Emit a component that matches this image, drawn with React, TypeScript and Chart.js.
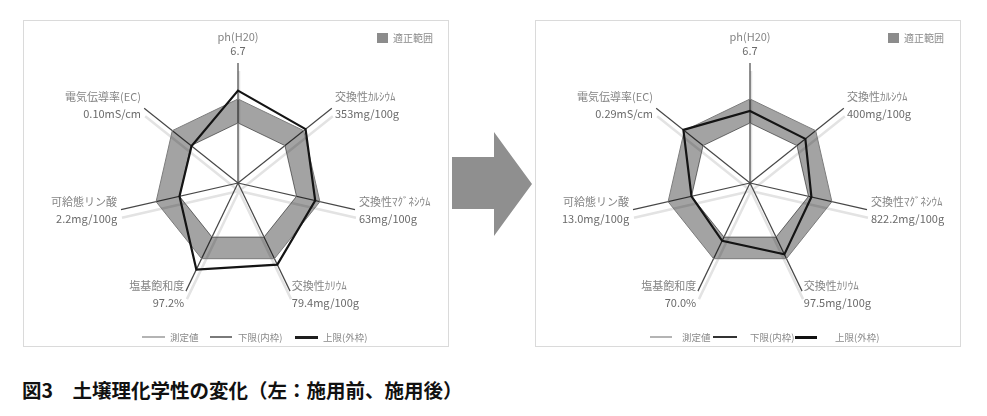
import React, { useEffect, useRef } from 'react';
import { Chart, registerables } from 'chart.js';

Chart.register(...registerables);

// ---- data ----
const AXIS_NAMES = ['ph(H20)', '交換性ｶﾙｼｳﾑ', '交換性ﾏｸﾞﾈｼｳﾑ', '交換性ｶﾘｳﾑ', '塩基飽和度', '可給態リン酸', '電気伝導率(EC)'];
const BEFORE_VALUE_LABELS = ['6.7', '353mg/100g', '63mg/100g', '79.4mg/100g', '97.2%', '2.2mg/100g', '0.10mS/cm'];
const AFTER_VALUE_LABELS = ['6.7', '400mg/100g', '822.2mg/100g', '97.5mg/100g', '70.0%', '13.0mg/100g', '0.29mS/cm'];
const LOWER_LIMIT = [50, 50, 50, 50, 50, 50, 50];
const UPPER_LIMIT = [70, 70, 70, 70, 70, 70, 70];
const BEFORE_MEASURED = [77, 72, 66, 75.5, 80, 50, 49.5];
const AFTER_MEASURED = [60, 59, 52.5, 66, 53.5, 50, 71];
const SCALE_MIN = 0;
const SCALE_MAX = 100;
const LEGEND_BAND = '適正範囲';
const LEGEND_MEASURED = '測定値';
const LEGEND_LOWER = '下限(内枠)';
const LEGEND_UPPER = '上限(外枠)';
const CAPTION = '図3　土壌理化学性の変化（左：施用前、施用後）';

const JP_FONT = "'Noto Sans CJK JP', 'Noto Sans', sans-serif";

const shadowPlugin = {
  id: 'spokeShadow',
  beforeDraw(chart: any) {
    const s = chart.scales.r;
    const ctx = chart.ctx;
    ctx.save();
    ctx.strokeStyle = '#e3e3e3';
    ctx.lineWidth = 2.5;
    for (let i = 0; i < chart.data.labels.length; i++) {
      const p = s.getPointPosition(i, s.drawingArea);
      ctx.beginPath();
      ctx.moveTo(s.xCenter + 1, s.yCenter + 8);
      ctx.lineTo(p.x + 1, p.y + 8);
      ctx.stroke();
    }
    ctx.restore();
  },
};

const labelPlugin = {
  id: 'axisLabels',
  afterDraw(chart: any, _args: any, opts: any) {
    const s = chart.scales.r;
    const ctx = chart.ctx;
    const names = chart.data.labels;
    const vals: string[] = opts.values || [];
    ctx.save();
    ctx.font = `11px ${JP_FONT}`;
    ctx.textBaseline = 'middle';
    for (let i = 0; i < names.length; i++) {
      const top = i === 0;
      const p = s.getPointPosition(i, s.drawingArea + (top ? 6 : 4));
      const c = Math.cos(p.angle);
      ctx.textAlign = Math.abs(c) < 0.05 ? 'center' : c > 0 ? 'left' : 'right';
      let y1: number;
      let y2: number;
      if (top) {
        y2 = p.y - 6;
        y1 = y2 - 14.5;
      } else {
        y1 = p.y - 8.5;
        y2 = p.y + 8.5;
      }
      ctx.fillStyle = '#858585';
      ctx.fillText(names[i], p.x, y1);
      ctx.fillStyle = '#6a6a6a';
      ctx.fillText(vals[i], p.x, y2);
    }
    ctx.restore();
  },
};

function RadarCanvas({ measured, valueLabels }: { measured: number[]; valueLabels: string[] }) {
  const ref = useRef<HTMLCanvasElement | null>(null);
  useEffect(() => {
    if (!ref.current) return;
    const chart = new Chart(ref.current, {
      type: 'radar',
      data: {
        labels: AXIS_NAMES,
        datasets: [
          {
            label: LEGEND_MEASURED,
            data: measured,
            borderColor: '#141414',
            borderWidth: 2.2,
            fill: false,
            pointRadius: 0,
            order: 0,
          },
          {
            label: LEGEND_UPPER,
            data: UPPER_LIMIT,
            borderColor: '#7c7c7c',
            borderWidth: 1,
            backgroundColor: 'rgba(0,0,0,0.36)',
            fill: 2,
            pointRadius: 0,
            order: 1,
          },
          {
            label: LEGEND_LOWER,
            data: LOWER_LIMIT,
            borderColor: '#7c7c7c',
            borderWidth: 1,
            fill: false,
            pointRadius: 0,
            order: 2,
          },
        ],
      } as any,
      options: {
        animation: false,
        responsive: false,
        maintainAspectRatio: false,
        layout: { padding: { left: 85, right: 85, top: 40, bottom: 40 } },
        elements: { line: { tension: 0 } },
        plugins: {
          legend: { display: false },
          tooltip: { enabled: false },
          axisLabels: { values: valueLabels },
        } as any,
        scales: {
          r: {
            min: SCALE_MIN,
            max: SCALE_MAX,
            grid: { display: false },
            ticks: { display: false },
            pointLabels: { display: false },
            angleLines: { color: '#474747', lineWidth: 1.2 },
          },
        },
      },
      plugins: [shadowPlugin, labelPlugin],
    });
    return () => chart.destroy();
  }, [measured, valueLabels]);
  return <canvas ref={ref} width={410} height={320} style={{ width: 410, height: 320, display: 'block' }} />;
}

type LegendItem = { lineX: number; lineW: number; color: string; h: number; text: string; textX: number };

function Panel({
  frameX,
  centerX,
  measured,
  valueLabels,
  legend,
  bandLegendX,
}: {
  frameX: number;
  centerX: number;
  measured: number[];
  valueLabels: string[];
  legend: LegendItem[];
  bandLegendX: number;
}) {
  const centerY = 183;
  return (
    <>
      <div
        style={{
          position: 'absolute',
          left: frameX,
          top: 20,
          width: 426,
          height: 327,
          border: '1px solid #dadada',
          boxSizing: 'border-box',
        }}
      />
      <div style={{ position: 'absolute', left: centerX - 205, top: centerY - 160 }}>
        <RadarCanvas measured={measured} valueLabels={valueLabels} />
      </div>
      <div
        style={{
          position: 'absolute',
          left: bandLegendX,
          top: 33,
          width: 11,
          height: 10,
          background: '#8c8c8c',
        }}
      />
      <div
        style={{
          position: 'absolute',
          left: bandLegendX + 16,
          top: 31,
          fontFamily: JP_FONT,
          fontSize: 10,
          lineHeight: '14px',
          color: '#8a8a8a',
          whiteSpace: 'nowrap',
        }}
      >
        {LEGEND_BAND}
      </div>
      {legend.map((it, i) => (
        <div
          key={'t' + i}
          style={{
            position: 'absolute',
            left: it.textX,
            top: 330,
            fontFamily: JP_FONT,
            fontSize: 9.5,
            lineHeight: '14px',
            color: '#8a8a8a',
            whiteSpace: 'nowrap',
          }}
        >
          {it.text}
        </div>
      ))}
      {legend.map((it, i) => (
        <div
          key={'l' + i}
          style={{
            position: 'absolute',
            left: it.lineX,
            top: 337 - it.h / 2,
            width: it.lineW,
            height: it.h,
            background: it.color,
          }}
        />
      ))}
    </>
  );
}

const LEFT_LEGEND: LegendItem[] = [
  { lineX: 142, lineW: 23, color: '#b4b4b4', h: 2, text: LEGEND_MEASURED, textX: 170 },
  { lineX: 210, lineW: 22, color: '#7a7a7a', h: 2.5, text: LEGEND_LOWER, textX: 238 },
  { lineX: 295, lineW: 23, color: '#1e1e1e', h: 3, text: LEGEND_UPPER, textX: 323 },
];

const RIGHT_LEGEND: LegendItem[] = [
  { lineX: 650, lineW: 22, color: '#b4b4b4', h: 2, text: LEGEND_MEASURED, textX: 682 },
  { lineX: 713, lineW: 24, color: '#333333', h: 2.5, text: LEGEND_LOWER, textX: 750 },
  { lineX: 795, lineW: 22, color: '#111111', h: 3, text: LEGEND_UPPER, textX: 835 },
];

export default function App() {
  return (
    <div style={{ position: 'absolute', left: 0, top: 0, width: 987, height: 416, background: '#fff', overflow: 'hidden' }}>
      <Panel
        frameX={23}
        centerX={238}
        measured={BEFORE_MEASURED}
        valueLabels={BEFORE_VALUE_LABELS}
        legend={LEFT_LEGEND}
        bandLegendX={377}
      />
      <div
        style={{
          position: 'absolute',
          left: 452,
          top: 132,
          width: 80,
          height: 104,
          background: '#8f8f8f',
          clipPath: 'polygon(0px 25px, 42px 25px, 42px 0px, 80px 52px, 42px 104px, 42px 77px, 0px 77px)',
        }}
      />
      <Panel
        frameX={535}
        centerX={750}
        measured={AFTER_MEASURED}
        valueLabels={AFTER_VALUE_LABELS}
        legend={RIGHT_LEGEND}
        bandLegendX={888}
      />
      <div
        style={{
          position: 'absolute',
          left: 22,
          top: 379,
          fontFamily: JP_FONT,
          fontWeight: 700,
          fontSize: 19.5,
          lineHeight: '22px',
          color: '#111',
          whiteSpace: 'nowrap',
        }}
      >
        {CAPTION}
      </div>
    </div>
  );
}
